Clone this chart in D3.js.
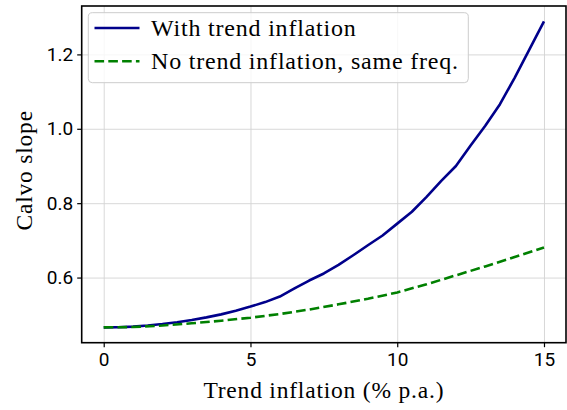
<!DOCTYPE html>
<html>
<head>
<meta charset="utf-8">
<script src="https://cdn.jsdelivr.net/npm/d3@7"></script>
<style>
  body { margin: 0; background: #fff; }
  svg { display: block; }
  .tick text { font-family: Roboto, "DejaVu Sans", sans-serif; font-size: 19px; fill: #000; }
  .lab { font-family: "Liberation Serif", "DejaVu Serif", serif; font-size: 23.5px; letter-spacing: 0.8px; fill: #000; }
  .leg { font-family: "Liberation Serif", "DejaVu Serif", serif; font-size: 24px; letter-spacing: 0.8px; fill: #000; }
</style>
</head>
<body>
<svg width="567" height="410"></svg>
<script>
// trend inflation (% p.a.)
var trendBlue = [0, 0.5, 1, 1.5, 2, 2.5, 3, 3.5, 4, 4.5, 5, 5.5, 6, 6.5, 7, 7.5, 8, 8.5, 9, 9.5, 10, 10.5, 11, 11.5, 12, 12.5, 13, 13.5, 14, 14.5, 15];
var slopeWithTrend = [0.466, 0.4665, 0.468, 0.471, 0.475, 0.480, 0.486, 0.493, 0.501, 0.511, 0.522, 0.534, 0.549, 0.571, 0.592, 0.611, 0.634, 0.660, 0.687, 0.713, 0.745, 0.777, 0.817, 0.860, 0.900, 0.955, 1.008, 1.066, 1.137, 1.213, 1.289];

var trendGreen = [0, 1, 2, 3, 4, 5, 6, 7, 8, 9, 10, 11, 12, 13, 14, 15];
var slopeNoTrend = [0.466, 0.467, 0.471, 0.477, 0.484, 0.492, 0.502, 0.514, 0.528, 0.543, 0.560, 0.582, 0.606, 0.630, 0.655, 0.681];

var xTicks = [0, 5, 10, 15];
var yTicks = [0.6, 0.8, 1.0, 1.2];
var seriesNames = ["With trend inflation", "No trend inflation, same freq."];

var pLeft = 81.7, pRight = 566, pTop = 6, pBottom = 342.7;

var svg = d3.select('svg');

// matplotlib style 5% margins
var xmin = d3.min(trendBlue), xmax = d3.max(trendBlue);
var ymin = d3.min(slopeWithTrend.concat(slopeNoTrend)), ymax = d3.max(slopeWithTrend.concat(slopeNoTrend));
var xpad = (xmax - xmin) * 0.05, ypad = (ymax - ymin) * 0.05;

var x = d3.scaleLinear().domain([xmin - xpad, xmax + xpad]).range([pLeft, pRight]);
var y = d3.scaleLinear().domain([ymin - ypad, ymax + ypad]).range([pBottom, pTop]);

// grid
svg.append('g')
  .attr('transform', 'translate(0,' + pBottom + ')')
  .call(d3.axisBottom(x).tickValues(xTicks).tickSize(-(pBottom - pTop)).tickFormat(''))
  .call(g => g.select('.domain').remove())
  .selectAll('line').attr('stroke', '#d4d4d4').attr('stroke-width', 0.9);

svg.append('g')
  .attr('transform', 'translate(' + pLeft + ',0)')
  .call(d3.axisLeft(y).tickValues(yTicks).tickSize(-(pRight - pLeft)).tickFormat(''))
  .call(g => g.select('.domain').remove())
  .selectAll('line').attr('stroke', '#d4d4d4').attr('stroke-width', 0.9);

// lines
var lineBlue = d3.line()
  .x(function (d, i) { return x(trendBlue[i]); })
  .y(function (d) { return y(d); });

var lineGreen = d3.line()
  .x(function (d, i) { return x(trendGreen[i]); })
  .y(function (d) { return y(d); });

svg.append('path')
  .datum(slopeWithTrend)
  .attr('d', lineBlue)
  .attr('fill', 'none')
  .attr('stroke', '#00008b')
  .attr('stroke-width', 2.6)
  .attr('stroke-linejoin', 'round');

svg.append('path')
  .datum(slopeNoTrend)
  .attr('d', lineGreen)
  .attr('fill', 'none')
  .attr('stroke', '#008000')
  .attr('stroke-width', 2.6)
  .attr('stroke-dasharray', '9.6,4.2');

// spines
svg.append('rect')
  .attr('x', pLeft).attr('y', pTop)
  .attr('width', pRight - pLeft).attr('height', pBottom - pTop)
  .attr('fill', 'none')
  .attr('stroke', '#000')
  .attr('stroke-width', 1.6);

// axes
var xAxis = svg.append('g')
  .attr('transform', 'translate(0,' + pBottom + ')')
  .call(d3.axisBottom(x).tickValues(xTicks).tickSizeOuter(0).tickSize(4.5).tickPadding(5).tickFormat(d3.format('d')));
xAxis.select('.domain').remove();
xAxis.selectAll('line').attr('stroke-width', 1.2);

var yAxis = svg.append('g')
  .attr('transform', 'translate(' + pLeft + ',0)')
  .call(d3.axisLeft(y).tickValues(yTicks).tickSizeOuter(0).tickSize(4.5).tickPadding(4).tickFormat(d3.format('.1f')));
yAxis.select('.domain').remove();
yAxis.selectAll('line').attr('stroke-width', 1.2);

// axis labels
svg.append('text')
  .attr('class', 'lab')
  .attr('x', (pLeft + pRight) / 2)
  .attr('y', 398)
  .attr('text-anchor', 'middle')
  .text('Trend inflation (% p.a.)');

svg.append('text')
  .attr('class', 'lab')
  .attr('transform', 'translate(32,' + ((pTop + pBottom) / 2 - 4) + ') rotate(-90)')
  .attr('text-anchor', 'middle')
  .text('Calvo slope');

// legend
var legend = svg.append('g');
legend.append('rect')
  .attr('x', 88.3).attr('y', 12.7)
  .attr('width', 380).attr('height', 70)
  .attr('rx', 4)
  .attr('fill', '#fff').attr('fill-opacity', 0.8)
  .attr('stroke', '#cccccc').attr('stroke-width', 1);

var legStyles = [
  { color: '#00008b', dash: null },
  { color: '#008000', dash: '9.6,4.2' }
];

legend.selectAll('line.key')
  .data(seriesNames)
  .enter()
  .append('line')
  .attr('class', 'key')
  .attr('x1', 94.5).attr('x2', 139.5)
  .attr('y1', function (d, i) { return 28 + i * 33.3; })
  .attr('y2', function (d, i) { return 28 + i * 33.3; })
  .attr('stroke', function (d, i) { return legStyles[i].color; })
  .attr('stroke-width', 2.6)
  .attr('stroke-dasharray', function (d, i) { return legStyles[i].dash; });

legend.selectAll('text')
  .data(seriesNames)
  .enter()
  .append('text')
  .attr('class', 'leg')
  .attr('x', 151)
  .attr('y', function (d, i) { return 36 + i * 33.3; })
  .text(function (d) { return d; });
</script>
</body>
</html>
